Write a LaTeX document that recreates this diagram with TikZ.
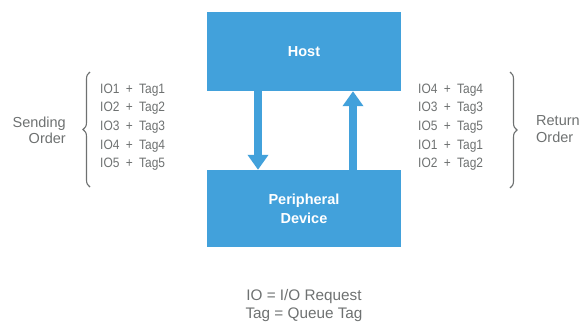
\documentclass[tikz,border=0pt]{standalone}
\usepackage{fontspec}
\setmainfont{Liberation Sans}
\newfontfamily\narrowsans[FakeStretch=0.88]{Liberation Sans}
\usetikzlibrary{arrows.meta,decorations.pathreplacing}
\definecolor{boxblue}{RGB}{66,161,219}
\definecolor{txtgray}{RGB}{110,113,113}
\newcommand{\pairtxt}[2]{#1\hspace{3pt} + \hspace{3pt}#2}
\begin{document}
\begin{tikzpicture}[x=1pt,y=-1pt,
  blk/.style={fill=boxblue, draw=none, text=white, font=\fontsize{14.5}{19}\selectfont\bfseries, align=center, inner sep=0pt},
  lst/.style={text=txtgray, font=\narrowsans\fontsize{13.6}{15}\selectfont, inner sep=0pt},
  lbl/.style={text=txtgray, font=\fontsize{14.5}{16}\selectfont, inner sep=0pt},
  key/.style={text=txtgray, font=\fontsize{15.3}{17}\selectfont, inner sep=0pt},
  flow/.style={draw=boxblue, line width=8pt, -{Triangle[width=20pt,length=15pt]}},
  brc/.style={draw=txtgray, line width=1.1pt, decorate, decoration={brace, amplitude=7pt}}]
\useasboundingbox (0,0) rectangle (582,322);
\node[blk, minimum width=194pt, minimum height=79pt] (host) at (304,51.5) {Host};
\node[blk, minimum width=194pt, minimum height=77pt] (dev) at (304,208.5) {Peripheral\\Device};
\coordinate (dx) at (258,0);
\coordinate (ux) at (353,0);
\draw[flow] (dx |- host.south) -- (dx |- dev.north);
\draw[flow] (ux |- dev.north) -- (ux |- host.south);
\foreach \a/\b [count=\i] in {IO1/Tag1, IO2/Tag2, IO3/Tag3, IO4/Tag4, IO5/Tag5}
  \node[lst, anchor=base west] (s\i) at (100,{93+18.7*(\i-1)}) {\pairtxt{\a}{\b}};
\foreach \a/\b [count=\i] in {IO4/Tag4, IO3/Tag3, IO5/Tag5, IO1/Tag1, IO2/Tag2}
  \node[lst, anchor=base west] (r\i) at (418,{93+18.7*(\i-1)}) {\pairtxt{\a}{\b}};
\coordinate (lb1) at (90,187);
\coordinate (lb2) at (90,72);
\draw[brc] (lb1) -- (lb2);
\coordinate (rb1) at (510,72);
\coordinate (rb2) at (510,188);
\draw[brc] (rb1) -- (rb2);
\node[lbl, anchor=base east] (sendA) at (66,127) {Sending};
\node[lbl, anchor=base east] (sendB) at (66,143) {Order};
\node[lbl, anchor=base west] (retA) at (536,125) {Return};
\node[lbl, anchor=base west] (retB) at (536,142) {Order};
\node[key, anchor=base] (key1) at (304,300) {IO = I/O Request};
\node[key, anchor=base] (key2) at (304,318) {Tag = Queue Tag};
\end{tikzpicture}
\end{document}
